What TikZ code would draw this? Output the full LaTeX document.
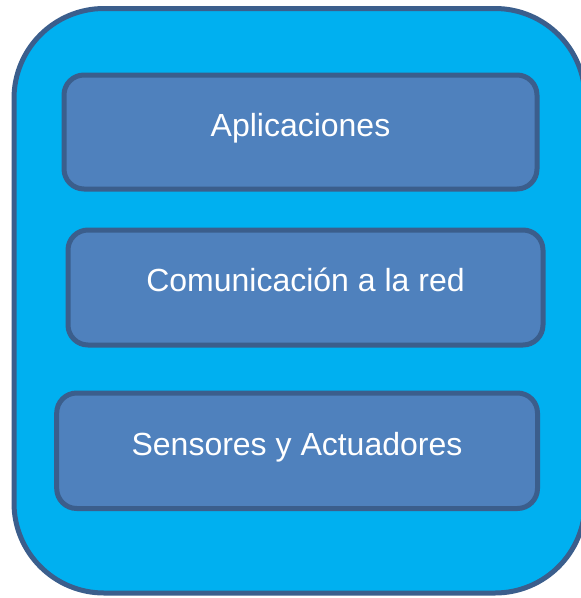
\documentclass[tikz,border=0pt]{standalone}
\usepackage{fontspec}
\setmainfont{Liberation Sans}
\definecolor{outerfill}{HTML}{00B0F0}
\definecolor{boxfill}{HTML}{4F81BD}
\definecolor{edge}{HTML}{3B5E8C}
\begin{document}
\begin{tikzpicture}[x=1pt,y=-1pt,
  outerbox/.style={draw=edge,fill=outerfill,line width=5pt,rounded corners=90pt},
  layerbox/.style={draw=edge,fill=boxfill,line width=5pt,rounded corners=20pt},
  layertext/.style={text=white,font=\fontsize{32}{38}\selectfont,anchor=base,inner sep=0pt}]
\useasboundingbox (0,0) rectangle (581,598);
\begin{scope}
\clip (0,0) rectangle (581,598);
\draw[outerbox] (14,8.5) rectangle (585,593);
\end{scope}
\draw[layerbox] (64,75) rectangle (537,189);
\draw[layerbox] (68,230) rectangle (543,345);
\draw[layerbox] (56.7,393) rectangle (537.5,508.5);
\node[layertext] (apl) at (300.5,136.7) {Aplicaciones};
\node[layertext] (com) at (305.5,291) {Comunicación a la red};
\node[layertext] (sen) at (297,455) {Sensores y Actuadores};
\end{tikzpicture}
\end{document}
